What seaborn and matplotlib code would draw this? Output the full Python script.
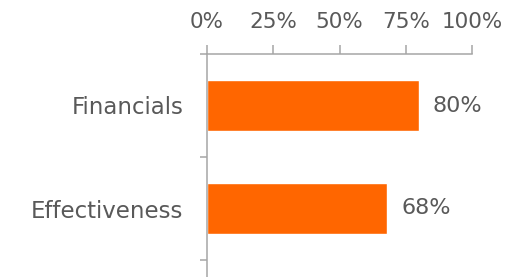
import numpy as np
import pandas as pd
import seaborn as sns
import matplotlib.pyplot as plt
from matplotlib.ticker import FixedLocator, PercentFormatter

categories = ["Financials", "Effectiveness"]
values = [0.80, 0.68]
x_ticks = [0, 0.25, 0.5, 0.75, 1.0]

sns.set_style("white")
plt.rcParams['font.family'] = ['DejaVu Sans']

text_col = "#595959"
axis_col = "#a6a6a6"
bar_col = "#ff6600"

W, H = 505, 277
fig = plt.figure(figsize=(W / 100, H / 100), dpi=100)
# axis starts at x=207px, 100% at x=472px, top axis at y=54px
ax = fig.add_axes([207 / W, 0, 265 / W, 223 / H])

df = pd.DataFrame({"cat": categories, "val": values})
sns.barplot(data=df, x="val", y="cat", orient="h", color=bar_col,
            saturation=1, width=0.5, ax=ax)

# category spacing 103px, axes height 223px
ax.set_ylim(-0.5 + 223 / 103, -0.5)
ax.set_xlim(0, 1)

ax.xaxis.tick_top()
ax.set_xticks(x_ticks)
ax.xaxis.set_major_formatter(PercentFormatter(1.0, decimals=0))
ax.tick_params(axis="x", direction="out", length=6.5, width=1.1,
               color=axis_col, labelsize=15.5, labelcolor=text_col, pad=9)

ax.yaxis.set_minor_locator(FixedLocator([-0.5, 0.5, 1.5]))
ax.tick_params(axis="y", which="major", length=0, labelsize=16.5,
               labelcolor=text_col, pad=17)
ax.tick_params(axis="y", which="minor", left=True, direction="out",
               length=5, width=1.1, color=axis_col)

for side in ["right", "bottom"]:
    ax.spines[side].set_visible(False)
for side in ["top", "left"]:
    ax.spines[side].set_color(axis_col)
    ax.spines[side].set_linewidth(1.1)

ax.set_xlabel("")
ax.set_ylabel("")

for c in ax.containers:
    ax.bar_label(c, labels=[f"{v * 100:.0f}%" for v in values], padding=10,
                 fontsize=16, color=text_col)

fig.savefig("out.png", dpi=100)
